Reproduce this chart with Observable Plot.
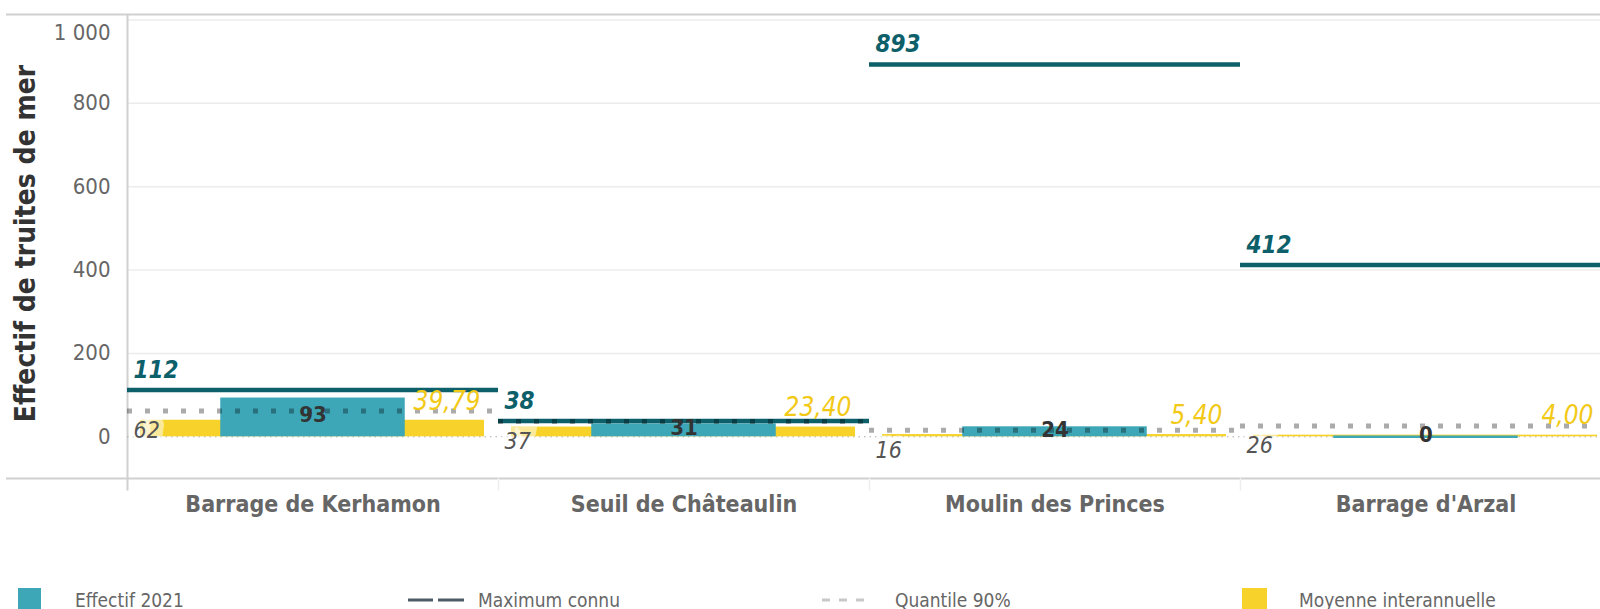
<!DOCTYPE html>
<html>
<head>
<meta charset="utf-8">
<script src="https://cdn.jsdelivr.net/npm/d3@7"></script>
<script src="https://cdn.jsdelivr.net/npm/@observablehq/plot@0.6"></script>
<style>
  html, body { margin: 0; padding: 0; background: #fff; overflow: hidden; }
  body { width: 1600px; height: 609px; font-family: "DejaVu Sans Condensed", "DejaVu Sans", sans-serif; }
  #legend { position: relative; width: 1600px; height: 34px; }
  .sw { position: absolute; }
  .lt { position: absolute; font-size: 19px; color: #666; line-height: 20px; white-space: nowrap; }
</style>
</head>
<body>
<div id="chart"></div>
<div id="legend"></div>
<script>
// ---- data ----
const sites = ["Barrage de Kerhamon", "Seuil de Châteaulin", "Moulin des Princes", "Barrage d'Arzal"];
const effectif2021 = [93, 31, 24, 0];
const maximumConnu = [112, 38, 893, 412];
const quantile90 = [62, 37, 16, 26];
const moyenneInterannuelle = [39.79, 23.40, 5.40, 4.00];
const yTicks = [0, 200, 400, 600, 800];
const yTopTick = [1000];
const yLabel = "Effectif de truites de mer";
const legendLabels = ["Effectif 2021", "Maximum connu", "Quantile 90%", "Moyenne interannuelle"];

const data = sites.map((s, i) => ({
  site: s, effectif: effectif2021[i], max: maximumConnu[i], q90: quantile90[i], moy: moyenneInterannuelle[i]
}));

// ---- style ----
const TEAL = "#3da7b8", DARK = "#0d5f6a", YELLOW = "#f6d22b", YELLOWTXT = "#f2c916";
const FONT = "DejaVu Sans Condensed, DejaVu Sans, sans-serif";
const W = 1600, H = 575;
const BW = (1611 - 127) / 4, HALF = BW / 2;
const fmtK = d => d3.format(",")(d).replace(/,/g, " ");
const fmtDec = d => d.toFixed(2).replace(".", ",");

const chart = Plot.plot({
  width: W, height: H,
  marginLeft: 127, marginRight: 0, marginTop: 14, marginBottom: H - 478,
  style: {fontFamily: FONT, fontSize: "22px", background: "#fff"},
  x: {type: "band", domain: sites, range: [127, 1611], padding: 0},
  y: {domain: [-100, 1013], range: [478, 14]},
  marks: [
    // gridlines
    Plot.ruleY([200, 400, 600, 800, 1000], {stroke: "#ececec", strokeWidth: 1.5}),
    // frame lines
    Plot.ruleY([1013], {stroke: "#d0d0d0", strokeWidth: 2, insetLeft: -121}),
    Plot.ruleY([-100], {stroke: "#d0d0d0", strokeWidth: 2, insetLeft: -121}),
    Plot.ruleX([sites[0]], {dx: -HALF, y1: -130, y2: 1013, stroke: "#d0d0d0", strokeWidth: 2}),
    Plot.ruleX(sites.slice(1), {dx: -HALF, y1: -130, y2: -100, stroke: "#eeeeee", strokeWidth: 1.5}),
    // zero dotted line
    Plot.ruleY([0], {stroke: "#aaa", strokeWidth: 1, strokeDasharray: "1.5,4"}),
    // yellow mean bar
    Plot.barY(data, {x: "site", y: "moy", fill: YELLOW, insetLeft: 13, insetRight: 14}),
    // teal effectif bar
    Plot.barY(data, {x: "site", y: "effectif", fill: TEAL, insetLeft: HALF / 2 + 0.5, insetRight: HALF / 2 + 0.5}),
    Plot.tickY(data, {filter: d => d.effectif === 0, x: "site", y: "effectif", stroke: TEAL, strokeWidth: 2.5, insetLeft: HALF / 2 + 0.5, insetRight: HALF / 2 + 0.5}),
    // maximum connu
    Plot.tickY(data, {x: "site", y: "max", stroke: DARK, strokeWidth: 4.5}),
    // quantile 90%
    Plot.tickY(data, {x: "site", y: "q90", stroke: "#000", strokeOpacity: 0.33, strokeWidth: 5, strokeDasharray: "5,13"}),
    // labels
    Plot.text(data, {x: "site", y: "max", text: d => String(d.max), textAnchor: "start", dx: -HALF + 6, dy: -20,
      fill: DARK, fontWeight: "bold", fontStyle: "italic", fontSize: 24}),
    Plot.text(data, {x: "site", y: "q90", text: d => String(d.q90), textAnchor: "start", dx: -HALF + 6, dy: 20,
      fill: "#555", fontStyle: "italic", fontSize: 23, stroke: "white", strokeWidth: 11, strokeOpacity: 0.55, strokeLinejoin: "miter"}),
    Plot.text(data, {x: "site", y: "moy", text: d => fmtDec(d.moy), textAnchor: "end", dx: HALF - 18, dy: -19,
      fill: YELLOWTXT, fontStyle: "italic", fontSize: 26}),
    Plot.text(data, {x: "site", y: d => d.effectif / 2, text: d => String(d.effectif), dy: -2,
      fill: "#333", fontWeight: "bold", fontSize: 22}),
    // axes
    Plot.axisY(yTicks, {tickSize: 0, tickPadding: 17, tickFormat: fmtK, color: "#666", fontSize: 22, label: null}),
    Plot.axisY(yTopTick, {tickSize: 0, tickPadding: 17, tickFormat: fmtK, color: "#666", fontSize: 22, label: null, dy: 13}),
    Plot.axisX({tickSize: 0, tickPadding: 17, color: "#666", fontSize: 23, fontWeight: "bold", label: null}),
    Plot.text([yLabel], {frameAnchor: "left", textAnchor: "middle", rotate: -90, dx: -101, dy: -3, fill: "#333", fontWeight: "bold", fontSize: 28})
  ]
});
document.getElementById("chart").appendChild(chart);

// ---- legend ----
const lg = document.getElementById("legend");
const items = [
  {sw: `<div class="sw" style="left:18px;top:13px;width:23px;height:23px;background:${TEAL}"></div>`, tx: 75},
  {sw: `<svg class="sw" style="left:408px;top:21px" width="58" height="8"><line x1="0" y1="4" x2="25" y2="4" stroke="#4d5b66" stroke-width="3"/><line x1="30" y1="4" x2="56" y2="4" stroke="#4d5b66" stroke-width="3"/></svg>`, tx: 478},
  {sw: `<svg class="sw" style="left:822px;top:21px" width="46" height="8"><line x1="0" y1="4" x2="44" y2="4" stroke="#c8c8c8" stroke-width="3" stroke-dasharray="8,9"/></svg>`, tx: 895},
  {sw: `<div class="sw" style="left:1242px;top:13px;width:25px;height:23px;background:${YELLOW}"></div>`, tx: 1299}
];
lg.innerHTML = items.map((it, i) => it.sw + `<div class="lt" style="left:${it.tx}px;top:15px">${legendLabels[i]}</div>`).join("");
</script>
</body>
</html>
